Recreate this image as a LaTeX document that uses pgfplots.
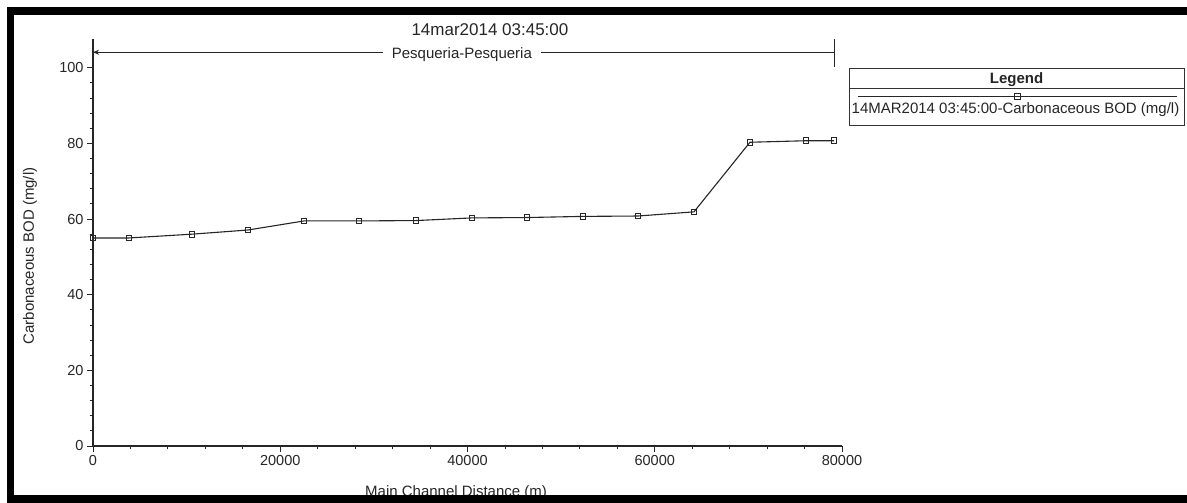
\documentclass[border=0pt]{standalone}
\usepackage{fontspec}
\setmainfont{Liberation Sans}
\usepackage{pgfplots}
\pgfplotsset{compat=1.18}
\usetikzlibrary{arrows.meta}
\newcommand{\fs}{\fontsize{15}{18}\selectfont}
\begin{document}
\begin{tikzpicture}[x=1pt,y=1pt]
\useasboundingbox (0,0) rectangle (1187,503);
\fill[white] (0,0) rectangle (1187,503);
\begin{axis}[
  at={(93pt,57pt)}, anchor=south west,
  scale only axis, width=749pt, height=407pt,
  xmin=0, xmax=80000, ymin=0, ymax=107.6,
  axis x line*=bottom, axis y line*=left,
  axis line style={line width=1.1pt, black!85},
  xtick={0,20000,40000,60000,80000},
  ytick={0,20,40,60,80,100},
  minor x tick num=4, minor y tick num=4,
  tick align=outside,
  major tick length=6pt, minor tick length=3.5pt,
  tick style={black!85, line width=0.9pt},
  scaled x ticks=false,
  /pgf/number format/set thousands separator={},
  /pgf/number format/assume math mode=true,
  tick label style={font=\fontsize{14.5}{17}\selectfont, text=black!85},
  xlabel={Main Channel Distance (m)},
  xlabel style={at={(axis description cs:0.4847,-0.124)}, anchor=base, font=\fs, text=black!85},
  ylabel={Carbonaceous BOD (mg/l)},
  ylabel style={at={(axis description cs:-0.0841,0.467)}, anchor=center, font=\fs, text=black!85},
  title={14mar2014 03:45:00},
  every axis title/.style={at={(axis description cs:0.530,1.022)}, anchor=center, font=\fontsize{17}{20}\selectfont, text=black!85},
  clip=false,
  legend style={at={(axis description cs:1.0200,0.8582)}, anchor=west, draw=none, fill=none, inner sep=0pt},
  legend image code/.code={\draw[mark repeat=2,mark phase=2,#1] plot coordinates {(0pt,0pt)(159.5pt,0pt)(319pt,0pt)};},
]
\addplot[black!85, line width=1.1pt, mark=square, mark size=2.8pt, mark options={fill=white, line width=0.9pt, solid}] coordinates {
(0,55.0) (3850,55.0) (10570,56.0) (16550,57.1) (22540,59.5) (28410,59.5)
(34500,59.6) (40480,60.3) (46360,60.4) (52340,60.7) (58210,60.8)
(64190,61.9) (70170,80.3) (76150,80.7) (79150,80.7)
};
\addlegendentry{}
\draw[line width=1pt, black!85, {Stealth[length=6pt,width=5pt]}-] (axis cs:0,104.1) -- (axis cs:79150,104.1);
\draw[line width=1pt, black!85] (axis cs:79150,100.2) -- (axis cs:79150,107.6);
\node[fill=white, inner xsep=9pt, font=\fs, text=black!85] at (axis cs:39400,103.5) {Pesqueria-Pesqueria};
\end{axis}
\draw[line width=0.9pt, black!80] (849,435) rectangle (1184,378);
\draw[line width=0.9pt, black!80] (849,415) -- (1184,415);
\node[font=\bfseries\fs, anchor=base, text=black!85] at (1016.5,419.6) {Legend};
\node[font=\fs, anchor=base, text=black!85] at (1015.5,389) {14MAR2014 03:45:00-Carbonaceous BOD (mg/l)};
\fill[black] (7,488) rectangle (1187,496);
\fill[black] (7,0) rectangle (14,496);
\fill[black] (7,0) rectangle (1187,8);
\end{tikzpicture}
\end{document}
